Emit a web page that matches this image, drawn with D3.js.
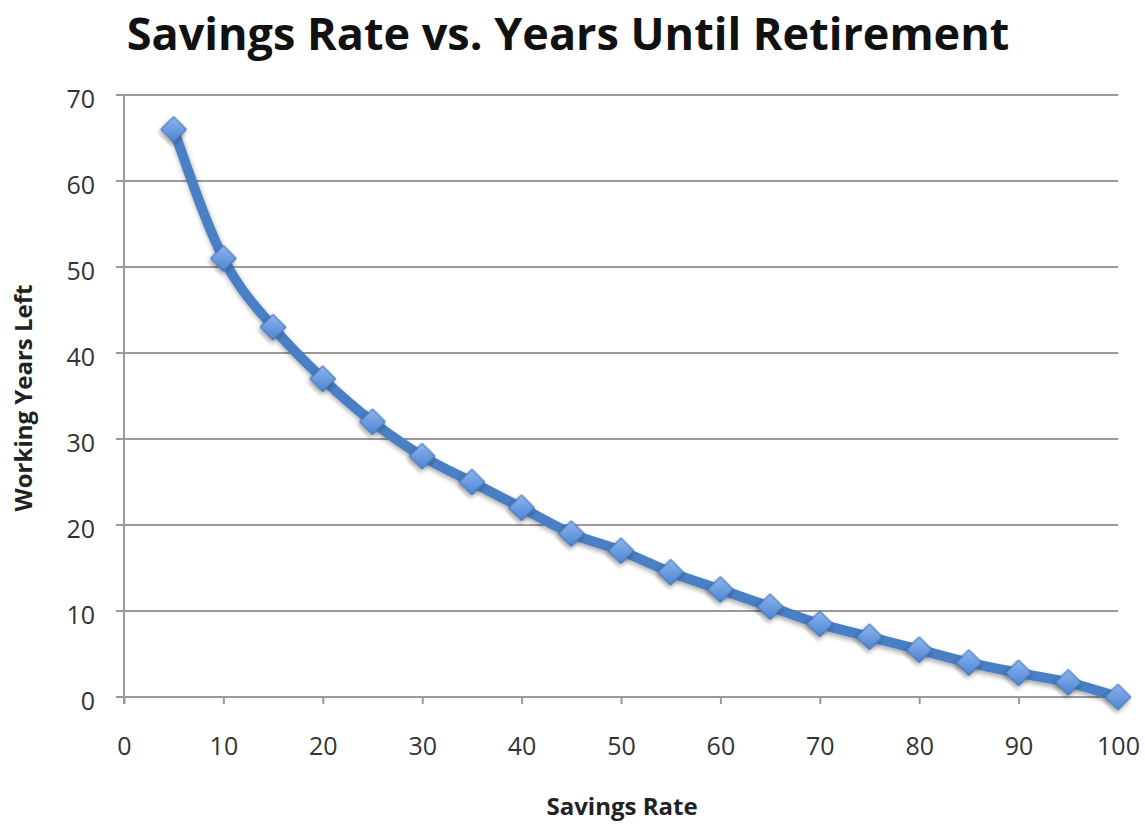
<!DOCTYPE html>
<html>
<head>
<meta charset="utf-8">
<script src="https://cdn.jsdelivr.net/npm/d3@7"></script>
<style>
	body { margin: 0; background: #fff; }
	text { font-family: "Open Sans", Lato, sans-serif; }
</style>
</head>
<body>
<div id="chart"></div>
<script>
// values
var savingsRate = [5, 10, 15, 20, 25, 30, 35, 40, 45, 50, 55, 60, 65, 70, 75, 80, 85, 90, 95, 100];
var yearsLeft = [66, 51, 43, 37, 32, 28, 25, 22, 19, 17, 14.5, 12.5, 10.5, 8.5, 7, 5.5, 4, 2.8, 1.7, 0];
var xTicks = [0, 10, 20, 30, 40, 50, 60, 70, 80, 90, 100];
var yTicks = [0, 10, 20, 30, 40, 50, 60, 70];

var width = 1145, height = 827;
var margin = {left: 124, right: 27, top: 95, bottom: 130};

var svg = d3.select("#chart").append("svg")
	.attr("width", width)
	.attr("height", height);

var defs = svg.append("defs");
var grad = defs.append("linearGradient")
	.attr("id", "mk")
	.attr("x1", 0).attr("y1", 0).attr("x2", 1).attr("y2", 1);
grad.append("stop").attr("offset", "0%").attr("stop-color", "#8cb5ee");
grad.append("stop").attr("offset", "100%").attr("stop-color", "#4d84d2");

var shadow = defs.append("filter").attr("id", "shadow")
	.attr("x", "-30%").attr("y", "-30%").attr("width", "160%").attr("height", "160%");
shadow.append("feDropShadow")
	.attr("dx", 1).attr("dy", 3).attr("stdDeviation", 2.5)
	.attr("flood-color", "#000").attr("flood-opacity", 0.35);

var x = d3.scaleLinear().domain([0, 100]).range([margin.left, width - margin.right]);
var y = d3.scaleLinear().domain([0, 70]).range([height - margin.bottom, margin.top]);

// gridlines
svg.append("g")
	.selectAll("line")
	.data(yTicks)
	.enter().append("line")
		.attr("x1", margin.left - 8)
		.attr("x2", width - margin.right)
		.attr("y1", function(d) { return y(d); })
		.attr("y2", function(d) { return y(d); })
		.attr("stroke", "#9a9a9a")
		.attr("stroke-width", 2);

// y axis line
svg.append("line")
	.attr("x1", margin.left).attr("x2", margin.left)
	.attr("y1", y(70)).attr("y2", y(0) + 7)
	.attr("stroke", "#9a9a9a")
	.attr("stroke-width", 2);

// x axis ticks
var xAxis = svg.append("g")
	.attr("transform", "translate(0," + y(0) + ")")
	.call(d3.axisBottom(x).tickValues(xTicks).tickSize(7).tickPadding(33));
xAxis.select(".domain").remove();
xAxis.selectAll("line").attr("stroke", "#9a9a9a").attr("stroke-width", 2);
xAxis.selectAll("text")
	.attr("font-size", 25)
	.attr("fill", "#333")
	.style("font-family", "'Open Sans', Lato, sans-serif");

var yAxis = svg.append("g")
	.attr("transform", "translate(" + margin.left + ",0)")
	.call(d3.axisLeft(y).tickValues(yTicks).tickSize(0).tickPadding(29));
yAxis.select(".domain").remove();
yAxis.selectAll("text")
	.attr("font-size", 25)
	.attr("dy", "0.48em")
	.attr("fill", "#333")
	.style("font-family", "'Open Sans', Lato, sans-serif");

var data = savingsRate.map(function(d, i) { return {x: d, y: yearsLeft[i]}; });

var line = d3.line()
	.x(function(d) { return x(d.x); })
	.y(function(d) { return y(d.y); })
	.curve(d3.curveMonotoneX);

svg.append("path")
	.datum(data)
	.attr("d", line)
	.attr("fill", "none")
	.attr("stroke", "#4a7fc4")
	.attr("stroke-width", 10)
	.attr("stroke-linejoin", "round")
	.attr("filter", "url(#shadow)");

var diamond = d3.symbol().type(d3.symbolSquare).size(330);
svg.append("g")
	.selectAll("path")
	.data(data)
	.enter().append("path")
		.attr("d", diamond)
		.attr("transform", function(d) { return "translate(" + x(d.x) + "," + y(d.y) + ") rotate(45)"; })
		.attr("fill", "url(#mk)")
		.attr("stroke", "#3d6fb3")
		.attr("stroke-width", 1)
		.attr("filter", "url(#shadow)");

// titles
svg.append("text")
	.attr("x", 568)
	.attr("y", 50)
	.attr("text-anchor", "middle")
	.attr("font-size", 45)
	.attr("font-weight", "bold")
	.attr("fill", "#111")
	.text("Savings Rate vs. Years Until Retirement");

svg.append("text")
	.attr("x", 622)
	.attr("y", 815)
	.attr("text-anchor", "middle")
	.attr("font-size", 24)
	.attr("font-weight", "bold")
	.attr("fill", "#222")
	.text("Savings Rate");

svg.append("text")
	.attr("transform", "translate(32,398) rotate(-90)")
	.attr("text-anchor", "middle")
	.attr("font-size", 24)
	.attr("font-weight", "bold")
	.attr("fill", "#222")
	.text("Working Years Left");
</script>
</body>
</html>
